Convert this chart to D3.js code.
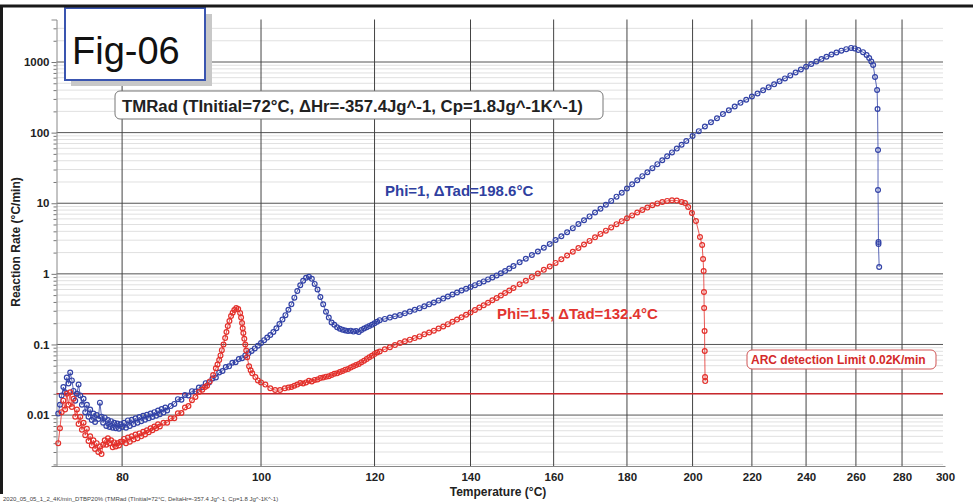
<!DOCTYPE html>
<html>
<head>
<meta charset="utf-8">
<script src="https://cdn.jsdelivr.net/npm/d3@7"></script>
<style>
  body { margin: 0; background: #fff; }
  text { font-family: "Liberation Sans", Arial, sans-serif; }
</style>
</head>
<body>
<div id="chart"></div>
<script>
const tempTicks = [80, 100, 120, 140, 160, 180, 200, 220, 240, 260, 280, 300];
const rateTicks = [0.01, 0.1, 1, 10, 100, 1000];
const rateLabels = ["0.01", "0.1", "1", "10", "100", "1000"];
const arcLimit = 0.02;

// Phi=1 run, [temperature degC, rate degC/min]
const phi1Points = [
  [72.2,0.0105],[72.4,0.014],[72.6,0.019],[72.8,0.025],[73.0,0.021],[73.2,0.034],[73.4,0.028],[73.6,0.040],
  [73.8,0.031],[74.0,0.022],[74.2,0.016],[74.4,0.020],[74.6,0.027],[74.8,0.019],[75.0,0.014],[75.2,0.017],
  [75.4,0.011],[75.6,0.014],[75.8,0.0095],[76.0,0.012],[76.2,0.0085],[76.4,0.0105],[76.6,0.0080],[76.8,0.0100],
  [77.0,0.0088],[77.2,0.0150],[77.4,0.0095],[77.6,0.0078],[77.8,0.0092],[78.0,0.0070],[78.2,0.0085],[78.4,0.0068],
  [78.6,0.0082],[78.8,0.0066],[79.0,0.0078],[79.2,0.0065],[79.4,0.0076],[79.6,0.0064],[79.8,0.0074],[80.0,0.0068],
  [80.25,0.0078],[80.5,0.0066],[80.75,0.0084],[81,0.0070],[81.25,0.0086],[81.5,0.0074],[81.75,0.0090],[82,0.0078],
  [82.25,0.0094],[82.5,0.0082],[82.75,0.0098],[83,0.0086],[83.25,0.0101],[83.5,0.0090],[83.75,0.0105],[84,0.0094],
  [84.25,0.0110],[84.5,0.0098],[84.75,0.0116],[85,0.0103],[85.25,0.0122],[85.5,0.0109],[85.75,0.0128],[86,0.0116],
  [86.5,0.0134],[87,0.0144],[87.5,0.0168],[88,0.0165],[88.5,0.0192],[89,0.0190],[89.5,0.0218],[90,0.0215],
  [90.5,0.0245],[91,0.0248],[91.5,0.0283],[92,0.0290],[92.5,0.0330],[93,0.034],[93.5,0.040],[94,0.042],
  [94.5,0.048],[95,0.049],[95.5,0.055],[96,0.056],[96.5,0.062],[97,0.064],[97.5,0.070],[98,0.075],
  [98.5,0.081],[99,0.088],[99.5,0.096],[100,0.105],[100.5,0.115],[101,0.125],[101.5,0.136],[102,0.150],
  [102.5,0.170],[103,0.195],[103.5,0.225],[104,0.26],[104.5,0.31],[105,0.37],[105.5,0.46],[106,0.57],
  [106.5,0.69],[107,0.80],[107.5,0.88],[108,0.91],[108.5,0.85],[109,0.72],[109.5,0.60],[110,0.47],
  [110.5,0.37],[111,0.29],[111.5,0.24],[112,0.205],[112.5,0.19],[113,0.175],[113.5,0.167],[114,0.162],
  [114.5,0.158],[115,0.155],[115.5,0.157],[116,0.152],[116.5,0.155],[117,0.150],[117.5,0.160],[118,0.168],
  [118.5,0.175],[119,0.182],[119.5,0.19],[120,0.20],[120.5,0.21],[121,0.221],[122,0.230],[123,0.240],
  [124,0.250],[125,0.261],[126,0.276],[127,0.292],[128,0.309],[129,0.327],[130,0.348],[131,0.370],
  [132,0.393],[133,0.418],[134,0.446],[135,0.477],[136,0.509],[137,0.544],[138,0.581],[139,0.615],
  [140,0.652],[141,0.692],[142,0.733],[143,0.782],[144,0.834],[145,0.889],[146,0.948],[147,1.02],
  [148,1.10],[149,1.19],[150,1.29],[151.5,1.46],[153,1.64],[154.5,1.85],[156,2.07],[157.5,2.34],
  [159,2.65],[160.5,3.01],[162,3.40],[163.5,3.89],[165,4.44],[166.5,5.07],[168,5.75],[169.5,6.51],
  [171,7.38],[172.5,8.36],[174,9.53],[175.5,10.8],[177,12.4],[178.5,14.1],[180,16.2],[181.5,18.5],
  [183,21.2],[184.5,24.2],[186,27.5],[187.5,31.4],[189,35.8],[190.5,40.7],[192,46.2],[193.5,52.5],
  [195,59.4],[196.5,67.3],[198,76.0],[200,89.5],[202,105],[204,122],[206,140],[208,160],
  [210,183],[212,207],[214,234],[216,264],[218,292],[220,324],[222,359],[224,397],
  [226,438],[228,483],[230,533],[232,586],[234,646],[236,711],[238,782],[240,855],
  [242,935],[244,1019],[246,1101],[248,1190],[250,1280],[252,1365],[254,1449],[256,1520],
  [258,1585],[259.5,1560],[261,1480],[263,1380],[264.5,1260],[265.6,1140],[266.5,1020],[267.3,907],
  [268.1,613],[269.0,401],[269.2,216],[269.4,56.7],[269.4,15.4],[269.6,2.82],[269.6,2.64],[269.9,1.25]
];

// Phi=1.5 run
const phi15Points = [
  [72.2,0.0040],[72.4,0.0065],[72.6,0.011],[72.8,0.016],[73.0,0.012],[73.2,0.020],[73.4,0.014],[73.6,0.021],
  [73.8,0.013],[74.0,0.017],[74.2,0.0095],[74.4,0.012],[74.6,0.0075],[74.8,0.0095],[75.0,0.0062],[75.2,0.0078],
  [75.4,0.0052],[75.6,0.0064],[75.8,0.0043],[76.0,0.0050],[76.2,0.0037],[76.4,0.0044],[76.6,0.0033],[76.8,0.0040],
  [77.0,0.0030],[77.2,0.0036],[77.4,0.0028],[77.6,0.0038],[77.8,0.0044],[78.0,0.0038],[78.2,0.0047],[78.4,0.0040],
  [78.6,0.0044],[78.8,0.0035],[79.0,0.0041],[79.2,0.0036],[79.4,0.0040],[79.6,0.0037],[79.8,0.0042],[80,0.0042],
  [80.25,0.0046],[80.5,0.0040],[80.75,0.0048],[81,0.0042],[81.25,0.0050],[81.5,0.0045],[81.75,0.0053],[82,0.0047],
  [82.25,0.0055],[82.5,0.0050],[82.75,0.0058],[83,0.0053],[83.25,0.0061],[83.5,0.0057],[83.75,0.0065],[84,0.0061],
  [84.25,0.0069],[84.5,0.0065],[84.75,0.0074],[85,0.0069],[85.5,0.0078],[86,0.0078],[86.5,0.0090],[87,0.0090],
  [87.5,0.0106],[88,0.0107],[88.5,0.0128],[89,0.0134],[89.5,0.0162],[90,0.0180],[90.5,0.0212],[91,0.0228],
  [91.4,0.025],[91.7,0.026],[92.1,0.030],[92.6,0.037],[93.0,0.046],[93.25,0.052],[93.5,0.060],[93.7,0.070],
  [93.9,0.083],[94.15,0.100],[94.4,0.123],[94.6,0.150],[94.8,0.182],[95.05,0.215],[95.3,0.252],[95.55,0.282],
  [95.8,0.307],[96.1,0.328],[96.4,0.317],[96.7,0.279],[96.85,0.240],[97.0,0.201],[97.1,0.170],[97.2,0.145],
  [97.35,0.120],[97.5,0.100],[97.65,0.082],[97.8,0.066],[98.1,0.049],[98.35,0.043],[98.6,0.039],[99.1,0.0345],
  [99.5,0.031],[100,0.029],[100.7,0.027],[101.5,0.024],[102.3,0.0226],[103.1,0.0226],[103.9,0.024],[104.5,0.0245],
  [105,0.025],[105.5,0.026],[106,0.027],[106.5,0.0284],[107,0.028],[107.5,0.029],[108,0.0305],[108.5,0.030],
  [109,0.0315],[109.5,0.032],[110,0.0334],[110.5,0.034],[111,0.035],[111.5,0.0355],[112,0.037],[112.5,0.0385],
  [113,0.039],[113.5,0.0406],[114,0.042],[114.5,0.044],[115,0.045],[115.5,0.047],[116,0.049],[116.5,0.051],
  [117,0.053],[117.5,0.056],[118,0.059],[118.5,0.062],[119,0.066],[119.5,0.069],[120,0.073],[120.5,0.077],
  [121,0.0796],[122,0.0853],[123,0.0914],[124,0.098],[125,0.105],[126,0.111],[127,0.117],[128,0.123],
  [129,0.130],[130,0.139],[131,0.148],[132,0.157],[133,0.168],[134,0.180],[135,0.194],[136,0.209],
  [137,0.225],[138,0.243],[139,0.263],[140,0.284],[141,0.308],[142,0.333],[143,0.360],[144,0.390],
  [145,0.422],[146,0.456],[147,0.493],[148,0.535],[149,0.581],[150,0.630],[151.5,0.711],[153,0.800],
  [154.5,0.900],[156,1.01],[157.5,1.14],[159,1.27],[160.5,1.43],[162,1.61],[163.5,1.82],[165,2.06],
  [166.5,2.32],[168,2.61],[169.5,2.93],[171,3.29],[172.5,3.68],[174,4.09],[175.5,4.55],[177,5.06],
  [178.5,5.58],[180,6.13],[181.5,6.73],[183,7.39],[184.5,8.04],[186,8.67],[187.5,9.35],[189,9.95],
  [190.5,10.4],[192,10.8],[193.5,11.0],[195,10.9],[196.5,10.4],[197.6,10.1],[198.6,8.84],[199.8,7.26],
  [201.1,5.60],[202.4,3.32],[203.1,2.56],[203.4,1.62],[203.6,1.10],[203.7,0.552],[203.75,0.328],[203.9,0.155],
  [203.95,0.0806],[204.05,0.0345],[204.1,0.0303]
];

const W = 973, H = 502;
const svg = d3.select("#chart").append("svg")
    .attr("width", W)
    .attr("height", H);

const x = d3.scaleLog().domain([72, 300]).range([56.5, 945]);
const y = d3.scaleLog().domain([0.0019, 4000]).range([466, 19.5]);
const plotRight = 943;

// minor horizontal grid
const minorRates = [];
for (let e = -3; e <= 3; e++) {
    for (let k = 2; k <= 9; k++) {
        const v = k * Math.pow(10, e);
        if (v > 0.0019 && v < 4000) minorRates.push(v);
    }
}
svg.append("g").selectAll("line")
    .data(minorRates)
    .enter().append("line")
    .attr("x1", x(72)).attr("x2", plotRight)
    .attr("y1", d => y(d)).attr("y2", d => y(d))
    .attr("stroke", "#e0e0e0")
    .attr("stroke-width", 1);

svg.append("g").selectAll("line")
    .data(rateTicks)
    .enter().append("line")
    .attr("x1", x(72)).attr("x2", plotRight)
    .attr("y1", d => y(d)).attr("y2", d => y(d))
    .attr("stroke", "#555")
    .attr("stroke-width", 1);

svg.append("g").selectAll("line")
    .data(tempTicks.filter(t => t < 300))
    .enter().append("line")
    .attr("x1", d => x(d)).attr("x2", d => x(d))
    .attr("y1", y(4000)).attr("y2", y(0.0019))
    .attr("stroke", "#444")
    .attr("stroke-width", 1);

// axes
svg.append("g")
    .attr("transform", `translate(${x(72)},0)`)
    .call(d3.axisLeft(y).tickValues(rateTicks).tickSize(5).tickPadding(2)
        .tickFormat((d, i) => rateLabels[i]));
svg.append("g")
    .attr("transform", `translate(${x(72)},0)`)
    .call(d3.axisLeft(y).tickValues(minorRates).tickSize(3).tickFormat(""))
    .call(g => g.select(".domain").remove());

svg.append("g")
    .attr("transform", `translate(0,${y(0.0019)})`)
    .call(d3.axisBottom(x).tickValues(tempTicks).tickSize(0).tickPadding(7)
        .tickFormat(d3.format("d")));

svg.selectAll(".domain").attr("stroke", "#888");
svg.selectAll(".tick line").attr("stroke", "#777");
svg.selectAll(".tick text")
    .attr("font-family", "'Liberation Sans', Arial, sans-serif")
    .attr("font-size", 11.5)
    .attr("font-weight", "bold")
    .attr("fill", "#222");

svg.append("text")
    .attr("x", 498).attr("y", 496)
    .attr("text-anchor", "middle")
    .attr("font-size", 12).attr("font-weight", "bold").attr("fill", "#222")
    .text("Temperature (°C)");

svg.append("text")
    .attr("transform", "translate(20,242) rotate(-90)")
    .attr("text-anchor", "middle")
    .attr("font-size", 12).attr("font-weight", "bold").attr("fill", "#222")
    .text("Reaction Rate (°C/min)");

// ARC limit
svg.append("line")
    .attr("x1", x(72)).attr("x2", plotRight)
    .attr("y1", y(arcLimit)).attr("y2", y(arcLimit))
    .attr("stroke", "#c8282d")
    .attr("stroke-width", 1.4);

// series
const line = d3.line().x(d => x(d[0])).y(d => y(d[1]));
const series = [
    { pts: phi1Points, color: "#3242a6" },
    { pts: phi15Points, color: "#e3302b" }
];
series.forEach(s => {
    svg.append("path")
        .datum(s.pts)
        .attr("d", line)
        .attr("fill", "none")
        .attr("stroke", s.color)
        .attr("stroke-width", 1)
        .attr("opacity", 0.8);
    svg.append("g").selectAll("circle")
        .data(s.pts)
        .enter().append("circle")
        .attr("cx", d => x(d[0]))
        .attr("cy", d => y(d[1]))
        .attr("r", 2.4)
        .attr("fill", "none")
        .attr("stroke", s.color)
        .attr("stroke-width", 1.2);
});

// annotations
svg.append("text")
    .attr("x", 385).attr("y", 196)
    .attr("font-size", 15).attr("font-weight", "bold").attr("fill", "#2f3fa0")
    .text("Phi=1, ΔTad=198.6°C");
svg.append("text")
    .attr("x", 497).attr("y", 319)
    .attr("font-size", 15).attr("font-weight", "bold").attr("fill", "#e2342f")
    .text("Phi=1.5, ΔTad=132.4°C");

svg.append("rect")
    .attr("x", 747).attr("y", 350).attr("width", 189).attr("height", 19)
    .attr("rx", 5)
    .attr("fill", "#fff").attr("stroke", "#d05555").attr("stroke-width", 1);
svg.append("text")
    .attr("x", 751).attr("y", 364)
    .attr("font-size", 12).attr("font-weight", "bold").attr("fill", "#d42a2a")
    .text("ARC detection Limit 0.02K/min");

svg.append("rect")
    .attr("x", 115).attr("y", 91).attr("width", 488).attr("height", 28)
    .attr("rx", 5)
    .attr("fill", "#fff").attr("stroke", "#777").attr("stroke-width", 1);
svg.append("text")
    .attr("x", 122).attr("y", 112)
    .attr("font-size", 16.8).attr("font-weight", "bold").attr("fill", "#222")
    .text("TMRad (TInitial=72°C, ΔHr=-357.4Jg^-1, Cp=1.8Jg^-1K^-1)");

// Fig-06 box
svg.append("rect")
    .attr("x", 71).attr("y", 14).attr("width", 141).attr("height", 72)
    .attr("fill", "#c8c8c8");
svg.append("rect")
    .attr("x", 65).attr("y", 8).attr("width", 140).attr("height", 72)
    .attr("fill", "#fff").attr("stroke", "#3a55b0").attr("stroke-width", 2);
svg.append("text")
    .attr("x", 72).attr("y", 64)
    .attr("font-size", 38).attr("fill", "#111")
    .text("Fig-06");

// frame
svg.append("line").attr("x1", 0).attr("x2", W).attr("y1", 6).attr("y2", 6)
    .attr("stroke", "#1a1a1a").attr("stroke-width", 3);
svg.append("line").attr("x1", 1.5).attr("x2", 1.5).attr("y1", 5).attr("y2", 494)
    .attr("stroke", "#1a1a1a").attr("stroke-width", 3);

svg.append("text")
    .attr("x", 3).attr("y", 501)
    .attr("font-size", 6).attr("fill", "#444")
    .text("2020_05_05_1_2_4K/min_DTBP20% (TMRad (TInitial=72°C, DeltaHr=-357.4 Jg^-1, Cp=1.8 Jg^-1K^-1)");
</script>
</body>
</html>
